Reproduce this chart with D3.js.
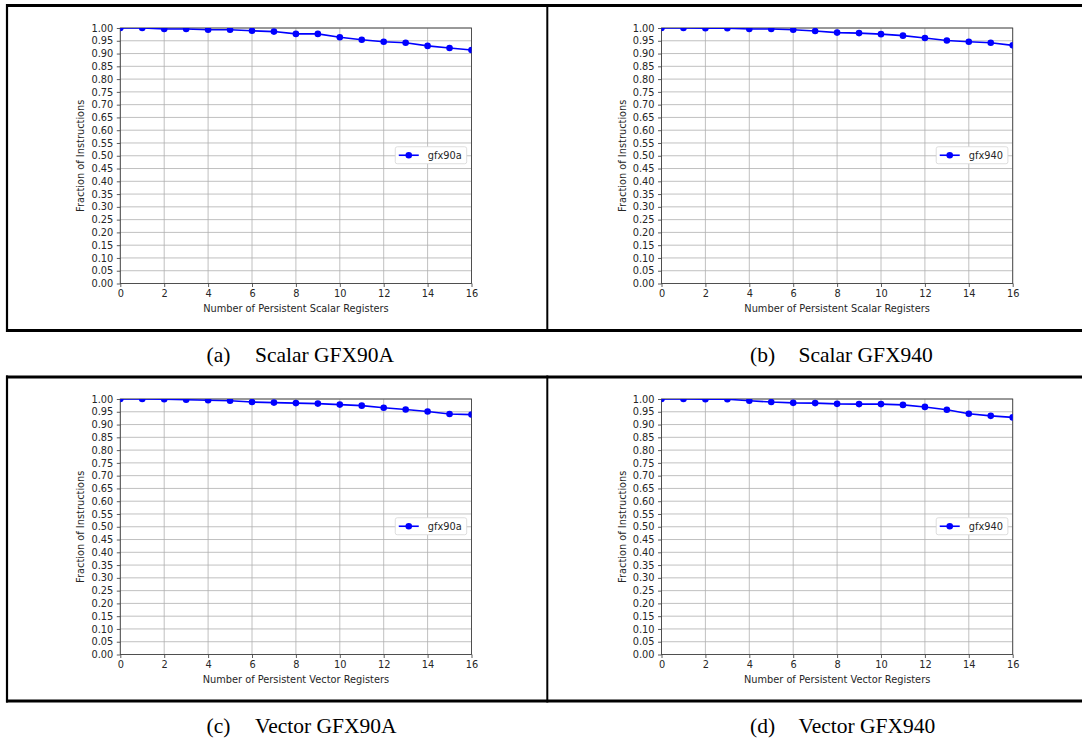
<!DOCTYPE html>
<html>
<head>
<meta charset="utf-8">
<script src="https://cdn.jsdelivr.net/npm/d3@7"></script>
<style>
  body { margin: 0; background: #fff; }
  svg { display: block; }
</style>
</head>
<body>
<svg></svg>
<script>
// values
var registers = [0, 1, 2, 3, 4, 5, 6, 7, 8, 9, 10, 11, 12, 13, 14, 15, 16];
var scalarGfx90a = [1.000, 1.000, 0.996, 0.996, 0.993, 0.993, 0.989, 0.986, 0.977, 0.977, 0.964, 0.954, 0.946, 0.942, 0.930, 0.922, 0.914];
var scalarGfx940 = [1.000, 1.000, 0.999, 0.999, 0.996, 0.996, 0.993, 0.988, 0.982, 0.980, 0.976, 0.970, 0.961, 0.951, 0.946, 0.942, 0.932];
var vectorGfx90a = [1.000, 1.000, 0.999, 0.997, 0.995, 0.993, 0.988, 0.986, 0.984, 0.982, 0.978, 0.974, 0.966, 0.959, 0.951, 0.941, 0.939];
var vectorGfx940 = [1.000, 1.000, 0.999, 0.999, 0.993, 0.988, 0.985, 0.984, 0.981, 0.980, 0.980, 0.977, 0.969, 0.958, 0.942, 0.934, 0.928];

var xTicks = [0, 2, 4, 6, 8, 10, 12, 14, 16];
var yTicks = [0.00, 0.05, 0.10, 0.15, 0.20, 0.25, 0.30, 0.35, 0.40, 0.45, 0.50,
              0.55, 0.60, 0.65, 0.70, 0.75, 0.80, 0.85, 0.90, 0.95, 1.00];

var panels = [
  {id: "a", values: scalarGfx90a, series: "gfx90a", xLabel: "Number of Persistent Scalar Registers", letter: "(a)", caption: "Scalar GFX90A", left: 120.3, top: 28},
  {id: "b", values: scalarGfx940, series: "gfx940", xLabel: "Number of Persistent Scalar Registers", letter: "(b)", caption: "Scalar GFX940", left: 661.5, top: 28},
  {id: "c", values: vectorGfx90a, series: "gfx90a", xLabel: "Number of Persistent Vector Registers", letter: "(c)", caption: "Vector GFX90A", left: 120.3, top: 399},
  {id: "d", values: vectorGfx940, series: "gfx940", xLabel: "Number of Persistent Vector Registers", letter: "(d)", caption: "Vector GFX940", left: 661.5, top: 399}
];

var screen = {width: 1082, height: 738};
var plot = {width: 351.2, height: 255.5};
var mplFont = "'DejaVu Sans', sans-serif";
var mplSize = "9.8px";
var blue = "#0000ff";

var svg = d3.select("svg")
    .attr("width", screen.width)
    .attr("height", screen.height);

// table borders
var borders = svg.append("g").attr("stroke", "#000");
[[5.5, 3], [330.5, 3], [377, 3], [701, 3.2]].forEach(function(h){
    borders.append("line")
      .attr("x1", 6).attr("x2", screen.width)
      .attr("y1", h[0]).attr("y2", h[0])
      .attr("stroke-width", h[1]);
});
[[4, 332], [375.5, 702.6]].forEach(function(v){
    borders.append("line")
      .attr("x1", 7).attr("x2", 7).attr("y1", v[0]).attr("y2", v[1])
      .attr("stroke-width", 2.2);
    borders.append("line")
      .attr("x1", 547.3).attr("x2", 547.3).attr("y1", v[0]).attr("y2", v[1])
      .attr("stroke-width", 2);
});

var drawPanel = function(p){
    var xScale = d3.scaleLinear().domain([0, 16]).range([0, plot.width]);
    var yScale = d3.scaleLinear().domain([0, 1]).range([plot.height, 0]);

    var g = svg.append("g")
      .attr("id", "panel-" + p.id)
      .attr("transform", "translate(" + p.left + "," + p.top + ")");

    g.append("clipPath")
      .attr("id", "clip-" + p.id)
      .append("rect")
      .attr("width", plot.width)
      .attr("height", plot.height);

    // grid
    var grid = g.append("g").attr("stroke", "#b0b0b0").attr("stroke-width", 0.8);
    grid.selectAll(".hg").data(yTicks).enter().append("line")
      .attr("x1", 0).attr("x2", plot.width)
      .attr("y1", function(d){ return yScale(d); })
      .attr("y2", function(d){ return yScale(d); });
    grid.selectAll(".vg").data(xTicks).enter().append("line")
      .attr("y1", 0).attr("y2", plot.height)
      .attr("x1", function(d){ return xScale(d); })
      .attr("x2", function(d){ return xScale(d); });

    // axes
    var xAxis = d3.axisBottom(xScale).tickValues(xTicks).tickSize(3.5).tickPadding(3.5).tickFormat(d3.format("d"));
    var yAxis = d3.axisLeft(yScale).tickValues(yTicks).tickSize(3.5).tickPadding(3.5).tickFormat(d3.format(".2f"));

    var xa = g.append("g").attr("transform", "translate(0," + plot.height + ")").call(xAxis);
    var ya = g.append("g").call(yAxis);
    [xa, ya].forEach(function(a){
        a.select(".domain").remove();
        a.selectAll("line").attr("stroke", "#333").attr("stroke-width", 0.8);
        a.selectAll("text")
          .attr("fill", "#262626")
          .style("font-family", mplFont)
          .style("font-size", mplSize);
    });

    // spines
    g.append("rect")
      .attr("width", plot.width)
      .attr("height", plot.height)
      .attr("fill", "none")
      .attr("stroke", "#444")
      .attr("stroke-width", 0.9);

    // series
    var series = g.append("g").attr("clip-path", "url(#clip-" + p.id + ")");
    var pts = registers.map(function(r, i){ return [r, p.values[i]]; });
    series.append("path")
      .datum(pts)
      .attr("fill", "none")
      .attr("stroke", blue)
      .attr("stroke-width", 1.6)
      .attr("d", d3.line()
        .x(function(d){ return xScale(d[0]); })
        .y(function(d){ return yScale(d[1]); }));
    series.selectAll("circle")
      .data(pts)
      .enter()
      .append("circle")
      .attr("cx", function(d){ return xScale(d[0]); })
      .attr("cy", function(d){ return yScale(d[1]); })
      .attr("r", 3.3)
      .attr("fill", blue);

    // axis labels
    g.append("text")
      .attr("x", plot.width / 2)
      .attr("y", plot.height + 28)
      .attr("text-anchor", "middle")
      .attr("fill", "#262626")
      .style("font-family", mplFont)
      .style("font-size", mplSize)
      .text(p.xLabel);
    g.append("text")
      .attr("transform", "translate(-36," + (plot.height / 2) + ") rotate(-90)")
      .attr("text-anchor", "middle")
      .attr("fill", "#262626")
      .style("font-family", mplFont)
      .style("font-size", mplSize)
      .text("Fraction of Instructions");

    // legend, center right
    var leg = g.append("g");
    var box = leg.append("rect")
      .attr("fill", "#fff")
      .attr("stroke", "#d6d6d6")
      .attr("stroke-width", 0.8)
      .attr("rx", 2);
    var ly = yScale(0.5) - 0.5;
    var lt = leg.append("text")
      .attr("y", ly + 3.4)
      .attr("fill", "#262626")
      .style("font-family", mplFont)
      .style("font-size", mplSize)
      .text(p.series);
    var tw = lt.node().getComputedTextLength();
    var bw = 3.5 + 20 + 9 + tw + 5;
    var bx = plot.width - 4.8 - bw;
    box.attr("x", bx).attr("y", ly - 8.5).attr("width", bw).attr("height", 17);
    leg.append("line")
      .attr("x1", bx + 3.5).attr("x2", bx + 23.5)
      .attr("y1", ly).attr("y2", ly)
      .attr("stroke", blue).attr("stroke-width", 1.6);
    leg.append("circle")
      .attr("cx", bx + 13.5).attr("cy", ly).attr("r", 3.3).attr("fill", blue);
    lt.attr("x", bx + 32.5);

    // caption under the cell
    var capY = p.top < 200 ? 362 : 733;
    var capX = p.left < 300 ? 206.5 : 750;
    svg.append("text")
      .attr("x", capX).attr("y", capY)
      .style("font-family", "'Liberation Serif', 'Times New Roman', serif")
      .style("font-size", "21.5px")
      .attr("fill", "#000")
      .text(p.letter);
    svg.append("text")
      .attr("x", capX + 48.5).attr("y", capY)
      .style("font-family", "'Liberation Serif', 'Times New Roman', serif")
      .style("font-size", "21.5px")
      .attr("fill", "#000")
      .text(p.caption);
};

panels.forEach(drawPanel);
</script>
</body>
</html>
